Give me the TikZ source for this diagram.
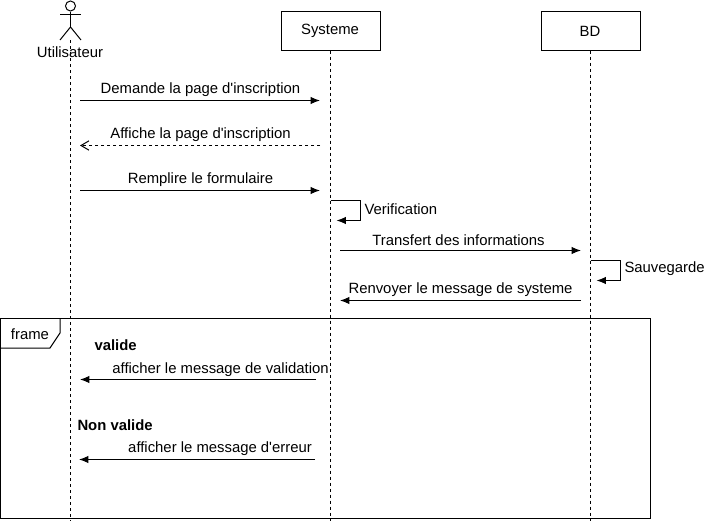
\documentclass[tikz,border=0pt]{standalone}
\usepackage{fontspec}
\setmainfont{Liberation Sans}
\usetikzlibrary{arrows.meta}

\tikzset{
    lifebox/.style={draw,minimum width=74.25pt,minimum height=29.25pt,inner sep=0pt},
    lifeline/.style={dashed,dash pattern=on 2.25pt off 2.25pt},
    msg/.style={->,>={Latex[length=7pt,width=5.5pt]}},
    reply/.style={->,>={Straight Barb[length=6pt,width=7pt]},dash pattern=on 2.25pt off 2.25pt},
    lbl/.style={inner sep=0pt,font=\fontsize{11.15}{12}\selectfont},
}

\begin{document}
\begin{tikzpicture}[x=0.75pt,y=-0.75pt,line width=0.75pt,cap=butt]
    \useasboundingbox (0,0) rectangle (706,521);

    % the actor
    \node[circle,draw,minimum size=7.5pt,inner sep=0pt] (head) at (70.5,6) {};
    \coordinate (hip) at (70.5,27);
    \coordinate (armL) at (60,14);
    \coordinate (armR) at (81,14);
    \coordinate (footL) at (60,40);
    \coordinate (footR) at (81,40);
    \draw (head.south) -- (hip);
    \draw (armL) -- (armR);
    \draw (footL) -- (hip) -- (footR);
    \node[lbl] (user) at (70,52) {Utilisateur};

    % the two boxes
    \node[lifebox] (sys) at (330.5,30.5) {};
    \node[lbl] (sysname) at (330,31) {Systeme};
    \node[lifebox] (bd) at (590.5,30.5) {};
    \node[lbl] (bdname) at (590,31) {BD};

    % draw the lifelines
    \coordinate (userTop) at (70.5,40);
    \coordinate (userEnd) at (70.5,521);
    \coordinate (sysEnd) at (330.5,521);
    \coordinate (bdEnd) at (590.5,521);
    \draw[lifeline] (userTop) -- (userEnd);
    \draw[lifeline] (sys.south) -- (sysEnd);
    \draw[lifeline] (bd.south) -- (bdEnd);

    % the messages
    \foreach \mname/\xa/\xb/\y/\lx/\ly/\mtext in {
        ask/80/320/100.5/200.5/89.5/{Demande la page d\textquotesingle inscription},
        fill/80/320/190.5/200.5/180/{Remplire le formulaire},
        send/340/581/250.5/458.5/240/{Transfert des informations},
        back/581/340/300.5/460.5/290/{Renvoyer le message de systeme},
        ok/316/80/379.5/220.5/369.5/{afficher le message de validation},
        err/315/79/459.5/220/448.5/{afficher le message d\textquotesingle erreur}} {
            \coordinate (\mname A) at (\xa,\y);
            \coordinate (\mname B) at (\xb,\y);
            \draw[msg] (\mname A) -- (\mname B);
            \node[lbl] (\mname L) at (\lx,\ly) {\mtext};
    }

    % the dashed answer
    \coordinate (showA) at (320,145.5);
    \coordinate (showB) at (80,145.5);
    \draw[reply] (showA) -- (showB);
    \node[lbl] (showL) at (200.5,135) {Affiche la page d\textquotesingle inscription};

    % self calls
    \foreach \sname/\x/\mtext in {check/330.5/Verification,save/590.5/Sauvegarde} {
            \pgfmathsetmacro{\xr}{\x+30}
            \pgfmathsetmacro{\xt}{\x+6}
            \pgfmathsetmacro{\ya}{ifthenelse(\x<400,200.5,260.5)}
            \pgfmathsetmacro{\yb}{\ya+20}
            \coordinate (\sname A) at (\x,\ya);
            \coordinate (\sname B) at (\xr,\ya);
            \coordinate (\sname C) at (\xr,\yb);
            \coordinate (\sname D) at (\xt,\yb);
            \draw[msg] (\sname A) -- (\sname B) -- (\sname C) -- (\sname D);
            \node[lbl,anchor=west] (\sname L) at (\xr+3.5,\ya+8.5) {\mtext};
    }

    % the frame
    \node[draw,minimum width=487.2pt,minimum height=150pt,inner sep=0pt,anchor=north west] (frame) at (0,318) {};
    \coordinate (tabA) at (60,318);
    \coordinate (tabB) at (60,333);
    \coordinate (tabC) at (50,348);
    \coordinate (tabD) at (0,348);
    \draw (tabA) -- (tabB) -- (tabC) -- (tabD);
    \node[lbl] (frameL) at (30,334) {frame};
    \node[lbl,anchor=west,font=\fontsize{11.15}{12}\selectfont\bfseries] (valid) at (94,345) {valide};
    \node[lbl,anchor=west,font=\fontsize{11.15}{12}\selectfont\bfseries] (invalid) at (77,425) {Non valide};
\end{tikzpicture}
\end{document}
